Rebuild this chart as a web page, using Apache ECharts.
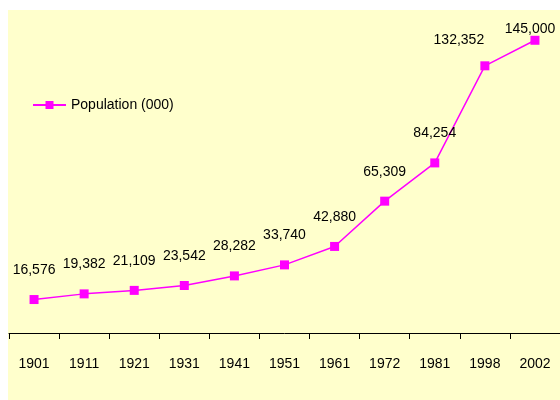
<!DOCTYPE html>
<html>
<head>
<meta charset="utf-8">
<script src="https://cdn.jsdelivr.net/npm/echarts@6/dist/echarts.min.js"></script>
<style>
html,body{margin:0;padding:0;background:#fff;}
#c{width:560px;height:400px;}
</style>
</head>
<body>
<div id="c"></div>
<script>
var years = ['1901','1911','1921','1931','1941','1951','1961','1972','1981','1998','2002'];
var population = [16576, 19382, 21109, 23542, 28282, 33740, 42880, 65309, 84254, 132352, 145000];
var seriesName = 'Population (000)';

var FONT = "'Liberation Sans', Arial, sans-serif";

function fmt(v){ return String(v).replace(/\B(?=(\d{3})+(?!\d))/g, ','); }

var labelOffsets = {9: [-26, 4], 10: [-5, 18]};
var seriesData = population.map(function(v, i){
  var item = {value: v};
  if (labelOffsets[i]) item.label = {offset: labelOffsets[i]};
  return item;
});

var chart = echarts.init(document.getElementById('c'));
chart.setOption({
  animation: false,
  backgroundColor: '#ffffff',
  graphic: [{
    type: 'rect', z: -10, silent: true,
    shape: {x: 8, y: 10, width: 560, height: 400},
    style: {fill: '#FFFFCC'}
  }],
  grid: {left: 9, top: 10, width: 553, height: 323, containLabel: false},
  legend: {
    left: 32, top: 98, padding: 0,
    itemWidth: 33, itemHeight: 10, itemGap: 4,
    textStyle: {fontFamily: FONT, fontSize: 14, color: '#000'},
    data: [seriesName]
  },
  xAxis: {
    type: 'category',
    data: years,
    boundaryGap: true,
    axisLine: {show: true, lineStyle: {color: '#000', width: 1}},
    axisTick: {show: true, length: 6, interval: 0, alignWithLabel: false, lineStyle: {color: '#000', width: 1}},
    axisLabel: {fontFamily: FONT, fontSize: 14, color: '#000', margin: 24, interval: 0}
  },
  yAxis: {
    type: 'value', min: 0, max: 160000,
    show: false
  },
  series: [{
    name: seriesName,
    type: 'line',
    data: seriesData,
    symbol: 'rect',
    symbolSize: 9,
    lineStyle: {color: '#FF00FF', width: 1.5},
    itemStyle: {color: '#FF00FF'},
    label: {
      show: true, position: 'top', distance: 18,
      fontFamily: FONT, fontSize: 14, color: '#000',
      formatter: function(p){ return fmt(p.value); }
    }
  }]
});
</script>
</body>
</html>
